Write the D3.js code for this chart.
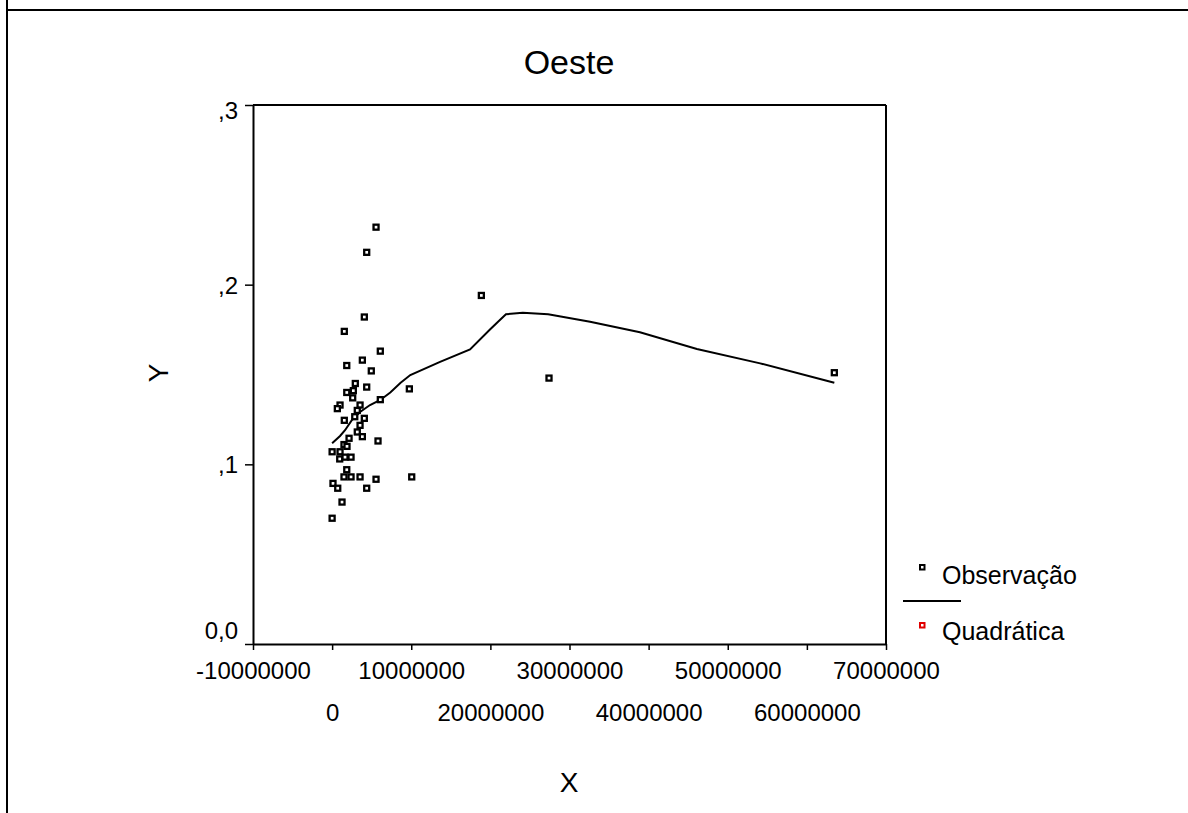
<!DOCTYPE html>
<html>
<head>
<meta charset="utf-8">
<script src="https://cdn.jsdelivr.net/npm/d3@7"></script>
<style>
  html, body { margin: 0; padding: 0; background: #fff; }
  svg { display: block; font-family: "Liberation Sans", Arial, sans-serif; }
</style>
</head>
<body>
<svg id="chart" width="1188" height="813"></svg>
<script>
// ---- Data (x in units, y proportion) ----
const chartTitle = "Oeste";
const xTitle = "X";
const yTitle = "Y";

const obsX = [5550000, 4370000, 4070000, 1540000, 18860000, 6090000, 3820000, 1850000, 4950000, 63470000,
  27410000, 2930000, 4370000, 9760000, 1850000, 2680000, 2600000, 6090000, 1000000, 660000,
  3530000, 3180000, 1540000, 2860000, 4070000, 3530000, 3180000, 3820000, 2140000, 5800000,
  1500000, 1880000, 0, 1000000, 960000, 1630000, 2390000, 1850000, 1500000, 2390000,
  3530000, 5550000, 10060000, 110000, 710000, 4370000, 1250000, 0];
const obsY = [0.232, 0.218, 0.182, 0.174, 0.194, 0.163, 0.158, 0.155, 0.152, 0.151,
  0.148, 0.145, 0.143, 0.142, 0.140, 0.141, 0.137, 0.136, 0.133, 0.131,
  0.133, 0.130, 0.1245, 0.1265, 0.1256, 0.1217, 0.118, 0.1154, 0.1145, 0.113,
  0.111, 0.110, 0.107, 0.107, 0.103, 0.104, 0.104, 0.097, 0.093, 0.093,
  0.093, 0.0917, 0.093, 0.0894, 0.0867, 0.0867, 0.079, 0.070];

const fitX = [0, 1000000, 1630000, 2510000, 3530000, 4790000, 6090000, 7350000, 8620000, 9880000,
  13640000, 17430000, 19950000, 20970000, 21970000, 24100000, 27300000, 32600000, 38900000, 46100000,
  54100000, 63470000];
const fitY = [0.1117, 0.1158, 0.119, 0.1247, 0.1291, 0.133, 0.1358, 0.140, 0.1453, 0.1497,
  0.157, 0.164, 0.175, 0.1794, 0.1835, 0.1844, 0.1835, 0.1794, 0.1735, 0.1642,
  0.1562, 0.1454];

const xTicks = [-10000000, 0, 10000000, 20000000, 30000000, 40000000, 50000000, 60000000, 70000000];
const yTicks = [0, 0.1, 0.2, 0.3];
const yTickLabels = ["0,0", ",1", ",2", ",3"];
const legendLabels = ["Observação", "Quadrática"];

// ---- Layout ----
const svg = d3.select("#chart");
const W = 1188, H = 813;
const pLeft = 253, pRight = 886, pTop = 105, pBottom = 644;
const FONT = "Liberation Sans, Arial, sans-serif";

const x = d3.scaleLinear().domain([-10000000, 70000000]).range([pLeft, pRight]);
const y = d3.scaleLinear().domain([0, 0.3]).range([pBottom, pTop]);

// outer frame
svg.append("line").attr("x1", 7).attr("x2", 7).attr("y1", 0).attr("y2", H)
  .attr("stroke", "#000").attr("stroke-width", 2);
svg.append("line").attr("x1", 7).attr("x2", W).attr("y1", 10).attr("y2", 10)
  .attr("stroke", "#000").attr("stroke-width", 2);

// title
svg.append("text").attr("x", 569).attr("y", 74).attr("text-anchor", "middle")
  .attr("font-size", 34).text(chartTitle);

// plot frame top/right
svg.append("line").attr("x1", pLeft).attr("x2", pRight).attr("y1", pTop).attr("y2", pTop)
  .attr("stroke", "#000").attr("stroke-width", 2);
svg.append("line").attr("x1", pRight).attr("x2", pRight).attr("y1", pTop).attr("y2", pBottom)
  .attr("stroke", "#000").attr("stroke-width", 2);

// x axis
const xAxis = svg.append("g").attr("transform", `translate(0,${pBottom})`)
  .call(d3.axisBottom(x).tickValues(xTicks).tickSize(6).tickSizeOuter(0)
    .tickFormat(d => String(d)));
xAxis.select(".domain").attr("stroke-width", 2);
xAxis.selectAll(".tick line").attr("stroke-width", 1.5);
xAxis.selectAll(".tick text")
  .attr("font-size", 24).attr("font-family", FONT)
  .attr("y", (d, i) => (i % 2 === 0 ? 26 : 68))
  .attr("dy", "0.36em");

// y axis
const yAxis = svg.append("g").attr("transform", `translate(${pLeft},0)`)
  .call(d3.axisLeft(y).tickValues(yTicks).tickSize(8).tickSizeOuter(0)
    .tickFormat((d, i) => yTickLabels[i]));
yAxis.select(".domain").attr("stroke-width", 2);
yAxis.selectAll(".tick line").attr("stroke-width", 1.5);
yAxis.selectAll(".tick text")
  .attr("font-size", 24).attr("font-family", FONT)
  .attr("x", -15)
  .attr("dy", (d) => d === 0 ? "-0.22em" : (d === 0.3 ? "0.55em" : "0.36em"));

// axis titles
svg.append("text").attr("x", 569).attr("y", 792).attr("text-anchor", "middle")
  .attr("font-size", 28).text(xTitle);
svg.append("text").attr("transform", "translate(168,373) rotate(-90)")
  .attr("text-anchor", "middle").attr("font-size", 28).text(yTitle);

// fit line
const fitData = fitX.map((v, i) => [v, fitY[i]]);
svg.append("path").datum(fitData)
  .attr("fill", "none").attr("stroke", "#000").attr("stroke-width", 2)
  .attr("d", d3.line().x(d => x(d[0])).y(d => y(d[1])));

// observations
const obsData = obsX.map((v, i) => [v, obsY[i]]);
svg.append("g").selectAll("rect").data(obsData).join("rect")
  .attr("x", d => x(d[0]) - 2.5).attr("y", d => y(d[1]) - 2.5)
  .attr("width", 5).attr("height", 5)
  .attr("fill", "#fff").attr("stroke", "#000").attr("stroke-width", 2.3);

// legend
const lg = svg.append("g");
lg.append("rect").attr("x", 920).attr("y", 565).attr("width", 4.5).attr("height", 4.5)
  .attr("fill", "#fff").attr("stroke", "#000").attr("stroke-width", 2);
lg.append("text").attr("x", 942).attr("y", 584).attr("font-size", 25).text(legendLabels[0]);
lg.append("line").attr("x1", 903).attr("x2", 961).attr("y1", 601).attr("y2", 601)
  .attr("stroke", "#000").attr("stroke-width", 2);
lg.append("rect").attr("x", 920).attr("y", 623).attr("width", 4.5).attr("height", 4.5)
  .attr("fill", "#fff").attr("stroke", "#e00000").attr("stroke-width", 2);
lg.append("text").attr("x", 942).attr("y", 640).attr("font-size", 25).text(legendLabels[1]);
</script>
</body>
</html>
